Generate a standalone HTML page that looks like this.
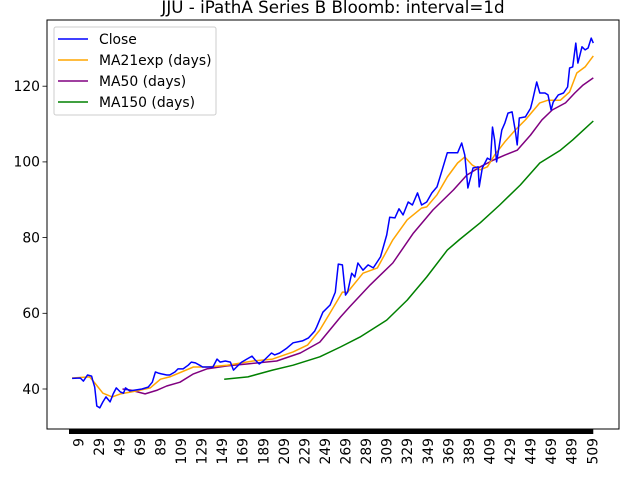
<!DOCTYPE html>
<html><head><meta charset="utf-8"><style>
html,body{margin:0;padding:0;background:#fff}
svg{display:block;font-family:"DejaVu Sans","Liberation Sans",sans-serif}
</style></head><body>
<svg id="chart" width="640" height="480" viewBox="0 0 640 480" xmlns="http://www.w3.org/2000/svg">
<rect x="0" y="0" width="640" height="480" fill="#fff"/>
<text x="333" y="13" font-size="16.7" text-anchor="middle">JJU - iPathA Series B Bloomb: interval=1d</text>
<g id="plot"></g>
<rect x="47" y="20" width="572" height="409" fill="none" stroke="#000" stroke-width="1"/>
<g id="legend">
<rect x="54" y="27" width="162" height="88" rx="2" fill="#fff" fill-opacity="0.8" stroke="#ccc"/>
</g>
</svg>
<script>
const closeIdx=[3,11,14,18,22,23,25,27,30,33,36,40,43,46,50,53,55,59,64,71,77,81,84,87,90,95,98,103,106,111,116,119,123,127,130,140,144,147,152,157,160,163,168,173,178,181,185,189,197,200,205,212,218,227,233,239,241,247,254,259,262,266,269,271,275,278,281,286,291,296,303,309,312,317,321,325,330,334,339,343,348,353,358,363,368,373,378,382,385,388,393,398,399,402,407,410,412,414,416,421,424,427,431,434,436,438,444,449,451,455,458,463,466,469,471,476,481,485,487,490,493,495,499,502,505,508,510];
const closeVal=[42.8,42.9,42.1,43.7,43.4,42.4,40.5,35.5,35.0,36.6,37.9,36.6,38.7,40.3,39.2,38.9,40.3,39.5,39.7,40.0,40.5,41.8,44.5,44.2,44.0,43.7,43.7,44.5,45.3,45.3,46.3,47.1,46.9,46.3,45.8,45.8,47.9,47.1,47.4,47.1,45.0,45.8,47.1,47.9,48.7,47.7,46.6,47.4,49.5,49.0,49.5,50.8,52.2,52.7,53.5,55.3,56.4,60.3,62.2,65.6,73.0,72.8,64.8,65.6,70.6,69.6,73.3,71.4,72.8,72.0,74.9,80.7,85.4,85.2,87.6,86.0,89.4,88.6,91.8,88.6,89.4,91.8,93.4,97.9,102.4,102.4,102.4,105.0,101.8,93.1,98.4,98.7,93.4,98.4,101.0,100.5,109.2,105.8,100.0,108.4,110.3,112.9,113.2,108.4,104.5,111.6,111.9,114.2,116.3,121.1,118.2,118.2,117.7,113.7,115.8,117.7,118.2,119.8,124.8,125.1,131.4,126.1,130.4,129.6,130.1,132.7,131.4];
const ma21Idx=[3,20,25,33,42,50,66,79,89,98,121,134,154,179,198,218,232,244,254,266,271,286,300,315,329,343,348,358,368,378,385,392,400,407,414,424,434,444,458,466,478,487,494,502,510];
const ma21Val=[42.9,43.2,41.6,38.9,37.9,38.7,39.5,40.3,42.6,43.2,45.8,45.8,46.3,47.4,47.9,49.8,51.6,55.6,60.1,65.6,65.6,70.6,72.0,79.4,84.7,87.8,88.1,91.3,96.0,99.7,101.3,99.2,97.9,98.7,101.8,105.3,108.4,111.1,115.6,116.3,116.3,118.5,123.5,125.1,128.0];
const ma50Idx=[52,60,74,86,95,108,121,134,154,173,202,225,244,264,273,293,315,335,354,374,387,400,413,424,436,449,460,470,483,492,500,510];
const ma50Val=[40.0,39.7,38.7,39.7,40.8,41.8,44.0,45.3,46.1,46.6,47.4,49.5,52.4,59.0,61.7,67.5,73.3,81.2,87.3,92.6,96.5,98.7,100.5,101.8,103.1,107.1,111.1,113.7,115.6,118.2,120.3,122.2];
const ma150Idx=[151,174,198,218,244,264,283,309,329,348,368,380,400,419,439,458,478,490,510];
const ma150Val=[42.6,43.2,45.0,46.3,48.5,51.1,53.7,58.2,63.5,69.6,76.7,79.5,83.9,88.6,93.9,99.7,103.1,105.8,110.8];
const yTicks=[40,60,80,100,120];
const xTickLabels=[9,29,49,69,89,109,129,149,169,189,209,229,249,269,289,309,329,349,369,389,409,429,449,469,489,509];
const lastIndex=510;

const NS="http://www.w3.org/2000/svg";
const X0=69, XS=1.028;
function xScale(i){return X0+i*XS;}
function yScale(v){return 389-(v-40)*3.785;}
const plot=document.getElementById('plot');
const svg=document.getElementById('chart');
function mk(tag,attrs,parent){const e=document.createElementNS(NS,tag);for(const k in attrs)e.setAttribute(k,attrs[k]);(parent||plot).appendChild(e);return e;}

function series(idx,val,color,name){
  const d=idx.map((i,k)=>(k?'L':'M')+xScale(i).toFixed(1)+','+yScale(val[k]).toFixed(1)).join('');
  const p=mk('path',{d:d,fill:'none',stroke:color,'stroke-width':1.5,'stroke-linejoin':'round'});
  
  
}
series(ma150Idx,ma150Val,'#008000','ma150-line');
series(ma50Idx,ma50Val,'#800080','ma50-line');
series(ma21Idx,ma21Val,'#ffa500','ma21exp-line');
series(closeIdx,closeVal,'#0000ff','close-line');

// y axis
yTicks.forEach(v=>{
  const y=yScale(v);
  const t=mk('line',{x1:42.5,x2:47,y1:y,y2:y,stroke:'#000','stroke-width':0.8},svg);
  
  
  const l=mk('text',{x:40,y:y+4.8,'font-size':13.9,'text-anchor':'end'},svg);
  l.textContent=v;
  
  
});
// dense x tick bar
const bar=mk('rect',{x:xScale(0),y:429,width:xScale(lastIndex)-xScale(0),height:5,fill:'#000'},svg);


xTickLabels.forEach(v=>{
  const x=xScale(v)+5;
  const l=mk('text',{x:0,y:0,'font-size':13.9,'text-anchor':'end',transform:'translate('+x+',438) rotate(-90)'},svg);
  l.textContent=v;
  
  
});
// legend
const leg=document.getElementById('legend');
const items=[['Close','#0000ff'],['MA21exp (days)','#ffa500'],['MA50 (days)','#800080'],['MA150 (days)','#008000']];
items.forEach((it,k)=>{
  const y=39+k*21;
  const ln=mk('line',{x1:58,x2:88,y1:y,y2:y,stroke:it[1],'stroke-width':1.5},leg);
  
  
  const tx=mk('text',{x:99,y:y+5,'font-size':13.9},leg);
  tx.textContent=it[0];
  
  
});
</script>
</body></html>
